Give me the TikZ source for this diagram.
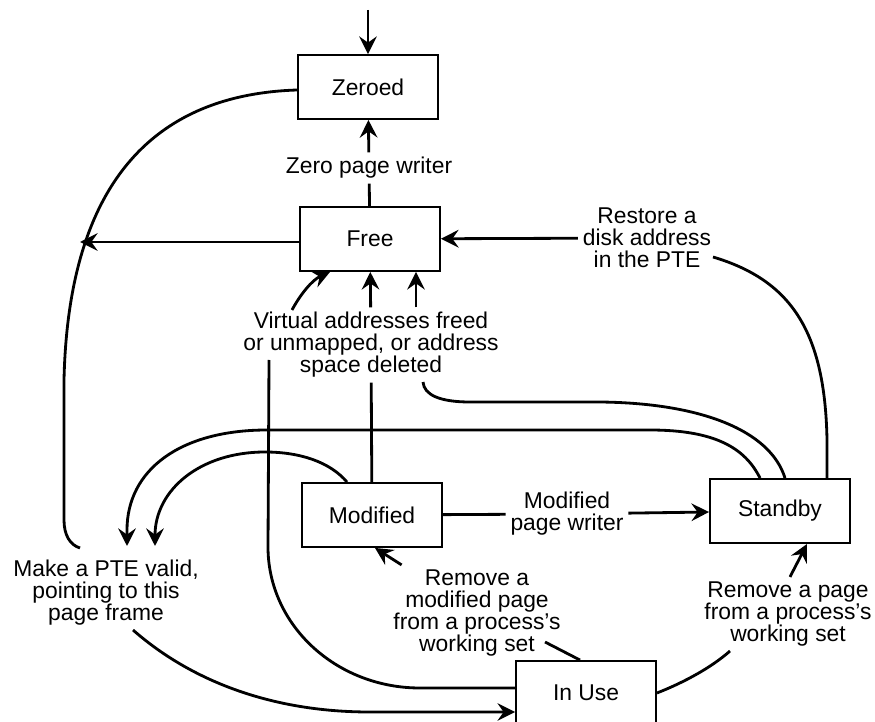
\documentclass[tikz,border=0pt]{standalone}
\usepackage{fontspec}
\setmainfont{Liberation Sans}
\usetikzlibrary{arrows.meta}

\begin{document}
\begin{tikzpicture}[x=0.02cm,y=-0.02cm,line width=1.6pt,
        >={Stealth[length=10pt,width=10pt,inset=3.5pt]},
        state/.style={draw,line width=1.1pt,minimum width=2.8cm,minimum height=1.28cm,
                      font=\fontsize{13}{12.5}\selectfont},
        note/.style={align=center,inner sep=2pt,font=\fontsize{13}{12.5}\selectfont}]

        \useasboundingbox (0,0) rectangle (875,722);

        % Define vertices
        \node[state] (zeroed) at (368,87) {Zeroed};
        \node[state] (free) at (370,239) {Free};
        \node[state] (modified) at (372,515) {Modified};
        \node[state] (standby) at (780,511) {Standby};
        \node[state] (inuse) at (586,693) {In Use};

        % Define labels
        \node[note] (zpw) at (369,168) {Zero page writer};
        \node[note] (restore) at (647,238) {Restore a\\disk address\\in the PTE};
        \node[note] (vaf) at (371,345) {Virtual addresses freed\\or unmapped, or address\\space deleted};
        \node[note] (mpw) at (567,514) {Modified\\page writer};
        \node[note] (rmp) at (477,613) {Remove a\\modified page\\from a process’s\\working set};
        \node[note] (rp) at (788,614) {Remove a page\\from a process’s\\working set};
        \node[note] (mpte) at (106,593) {Make a PTE valid,\\pointing to this\\page frame};

        % Loose ends
        \coordinate (in) at (368,10);
        \coordinate (join) at (80,242);
        \coordinate (rs) at (713,257);
        \coordinate (vs) at (292,310);
        \coordinate (ve) at (269,360);
        \coordinate (vd) at (423,382);
        \coordinate (m1) at (127,546);
        \coordinate (m2) at (155,546);
        \coordinate (mz) at (80,548);
        \coordinate (mp) at (133,630);
        \coordinate (rmpe) at (545,642);
        \coordinate (rpe) at (730,651);

        % Draw edges
        \draw[->] (in) -- (zeroed);
        \draw (free) -- (zpw);
        \draw[->] (zpw) -- (zeroed);
        \draw[->] (free.west |- join) -- (join);
        \draw[->] (restore) -- (free);
        \draw ([shift={(47,0)}]standby.north) -- (827,440)
            .. controls (825,330) and (790,280) .. (rs);
        \draw[->] (vaf) -- (free);
        \draw[->] ([shift={(45,0)}]vaf.north) -- ([shift={(46,0)}]free.south);
        \draw[->] (vs) .. controls (300,295) and (312,280) .. ([shift={(-40,0)}]free.south);
        \draw (modified) -- (vaf);
        \draw ([shift={(0,-5)}]inuse.west) -- (420,688)
            .. controls (336,688) and (268,625) .. (268,547) -- (ve);
        \draw ([shift={(5,0)}]standby.north) .. controls (770,430) and (700,403) .. (600,402)
            -- (470,402) .. controls (440,402) and (424,395) .. (vd);
        \draw[->] ([shift={(-20,0)}]standby.north) .. controls (745,448) and (715,430) .. (650,430)
            -- (267,430) .. controls (180,430) and (127,470) .. (127,530) -- (m1);
        \draw[->] ([shift={(-25,0)}]modified.north) .. controls (330,462) and (300,452) .. (265,452)
            .. controls (200,452) and (155,490) .. (m2);
        \draw ([shift={(0,3)}]zeroed.west) .. controls (140,95) and (68,200) .. (64,380)
            -- (64,520) .. controls (64,535) and (70,545) .. (mz);
        \draw[->] (mp) .. controls (190,680) and (270,712) .. (370,712) -- ([shift={(0,19)}]inuse.west);
        \draw (modified) -- (mpw);
        \draw[->] (mpw) -- (standby);
        \draw ([shift={(-6,0)}]inuse.north) -- (rmpe);
        \draw[->] (rmp) -- ([shift={(3,0)}]modified.south);
        \draw (inuse.east) .. controls (685,682) and (712,667) .. (rpe);
        \draw[->] ([shift={(2,0)}]rp.north) -- ([shift={(27,0)}]standby.south);

\end{tikzpicture}
\end{document}
